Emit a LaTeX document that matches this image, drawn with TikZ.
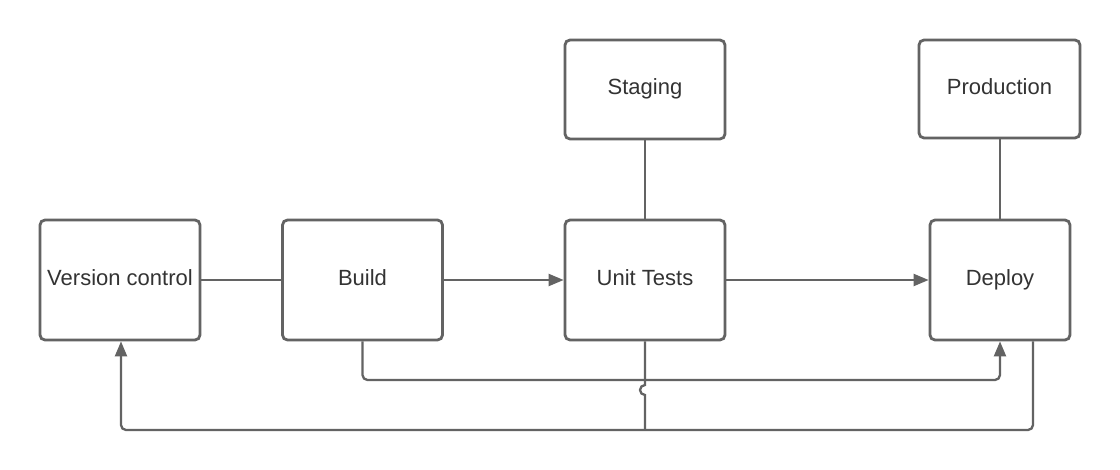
\documentclass[tikz,border=0pt]{standalone}
\usepackage{fontspec}
\setmainfont{Liberation Sans}
\usetikzlibrary{arrows.meta}
\definecolor{lc}{HTML}{636363}
\definecolor{tc}{HTML}{333333}
\begin{document}
\begin{tikzpicture}[x=1pt,y=-1pt,
  box/.style={draw=lc, line width=2.8pt, rounded corners=5pt, fill=white,
    minimum width=160pt, minimum height=120pt, inner sep=0pt,
    text height=16pt, text depth=5pt,
    font=\fontsize{22}{26}\selectfont, text=tc},
  conn/.style={draw=lc, line width=2.3pt},
  arr/.style={-{Triangle[length=15pt,width=12pt]}}]
\fill[white] (0,0) rectangle (1120,470);
\useasboundingbox (0,0) rectangle (1120,470);
\coordinate (bot) at (0,430);
\coordinate (mid) at (0,380);
\node[box] (vc) at (120,280) {Version control};
\node[box] (build) at (362.5,280) {Build};
\node[box] (ut) at (645,280) {Unit Tests};
\node[box, minimum width=140pt] (deploy) at (1000,280) {Deploy};
\node[box, minimum height=99pt] (staging) at (645,89.5) {Staging};
\node[box, minimum width=161pt, minimum height=98pt] (prod) at (999.5,89) {Production};
\draw[conn] (vc.east) -- (build.west);
\draw[conn,arr] (build.east) -- (ut.west);
\draw[conn,arr] (ut.east) -- (deploy.west);
\draw[conn] (staging.south) -- (ut.north);
\draw[conn] (prod.south -| deploy.north) -- (deploy.north);
\draw[conn,arr,rounded corners=5pt] (build.south) -- (build.south |- mid) -| (deploy.south);
\draw[conn] (ut.south) -- ([yshift=-5pt]ut.south |- mid) arc[start angle=270, end angle=90, radius=5] -- (ut.south |- bot);
\draw[conn,arr,rounded corners=5pt] ([xshift=33pt]deploy.south) -- ([xshift=33pt]deploy.south |- bot) -| ([xshift=1pt]vc.south);
\end{tikzpicture}
\end{document}
